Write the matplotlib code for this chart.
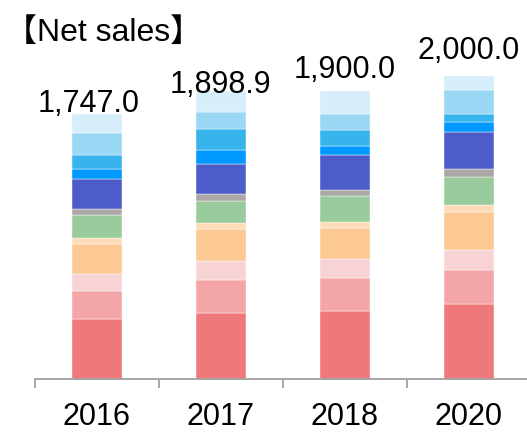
import numpy as np
import matplotlib
matplotlib.use('Agg')
from matplotlib import pyplot as plt

plt.rcParams['font.family'] = ['Liberation Sans', 'Noto Sans CJK JP', 'DejaVu Sans']

years = ['2016', '2017', '2018', '2020']
totals = [1747.0, 1898.9, 1900.0, 2000.0]

# segments from the bottom of each bar up
seg_red = [394, 430, 443, 489]
seg_pink = [183, 220, 222, 228]
seg_lpink = [112, 126, 122, 129]
seg_orange = [200, 212, 208, 251]
seg_lorange = [36, 38, 36, 46]
seg_green = [152, 147, 173, 188]
seg_gray = [44, 46, 44, 52]
seg_indigo = [194, 200, 226, 243]
seg_blue = [66, 91, 60, 68]
seg_sky = [96, 137, 106, 54]
seg_lblue = [145, 116, 109, 155]
seg_pale = [125, 137, 151, 97]

segments = [seg_red, seg_pink, seg_lpink, seg_orange, seg_lorange, seg_green,
            seg_gray, seg_indigo, seg_blue, seg_sky, seg_lblue, seg_pale]
colors = ['#EF787B', '#F3A5A8', '#F8D3D6', '#FCC994', '#FDDDB8', '#99CB9C',
          '#ACA7A7', '#4C5CC8', '#0099FF', '#38B4EC', '#9AD7F4', '#D6EDFA']

# label offsets in pixels (dx, dy) relative to bar top
label_dx = [-8.5, 0, 0, 0]
label_dy = [1.7, -2.5, 12.5, 16.6]

fig = plt.figure(figsize=(5.27, 4.32), dpi=100)
ax = fig.add_axes([35 / 527, (432 - 378.5) / 432, 492 / 527, 378.5 / 432])

x = np.arange(len(years))
bottom = np.zeros(len(years))
for vals, c in zip(segments, colors):
    vals = np.array(vals, dtype=float)
    ax.bar(x, vals, width=0.40, bottom=bottom, color=c, edgecolor='white', linewidth=0.3)
    bottom += vals

for i, t in enumerate(totals):
    ax.annotate('{:,.1f}'.format(t), (x[i], bottom[i]), xytext=(label_dx[i] * 0.72, label_dy[i] * 0.72),
                textcoords='offset points', ha='center', va='baseline', fontsize=22)

ax.set_xlim(-0.5, 3.47)
ax.set_ylim(0, 2500)
for s in ['top', 'right', 'left']:
    ax.spines[s].set_visible(False)
ax.spines['bottom'].set_color('#A0A0A0')
ax.spines['bottom'].set_linewidth(1.3)
ax.set_yticks([])
ax.set_xticks(x)
ax.set_xticklabels(years, fontsize=22)
ax.tick_params(axis='x', which='major', length=0, pad=17)
ax.set_xticks([-0.5, 0.5, 1.5, 2.5], minor=True)
ax.tick_params(axis='x', which='minor', length=6.5, width=1.3, color='#A0A0A0', direction='out')

fig.text(5 / 527, 1 - 40.7 / 432, '【Net sales】', fontsize=23, va='baseline', ha='left')

plt.savefig('out.png', dpi=100)
